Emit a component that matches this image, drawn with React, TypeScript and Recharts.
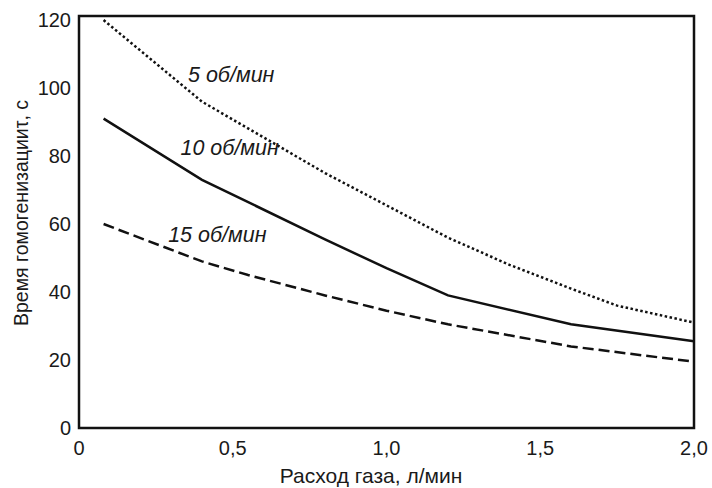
import {
  LineChart,
  Line,
  XAxis,
  YAxis,
  ReferenceArea,
  ReferenceDot,
  Label,
} from "recharts";

// gas flow, l/min -> homogenization time, s
const rpm5 = [
  { q: 0.08, t: 120 },
  { q: 0.4, t: 96 },
  { q: 0.8, t: 75 },
  { q: 1.2, t: 56 },
  { q: 1.4, t: 48 },
  { q: 1.6, t: 41 },
  { q: 1.75, t: 36 },
  { q: 2.0, t: 31 },
];

const rpm10 = [
  { q: 0.08, t: 91 },
  { q: 0.4, t: 73 },
  { q: 0.8, t: 55.5 },
  { q: 1.0, t: 47 },
  { q: 1.2, t: 39 },
  { q: 1.6, t: 30.5 },
  { q: 2.0, t: 25.5 },
];

const rpm15 = [
  { q: 0.08, t: 60 },
  { q: 0.4, t: 49 },
  { q: 0.55, t: 45 },
  { q: 0.8, t: 39 },
  { q: 1.0, t: 34.5 },
  { q: 1.2, t: 30.5 },
  { q: 1.6, t: 24 },
  { q: 2.0, t: 19.5 },
];

const curveLabels = [
  { text: "5 об/мин", q: 0.495, t: 103.8 },
  { text: "10 об/мин", q: 0.49, t: 82.4 },
  { text: "15 об/мин", q: 0.45, t: 56.8 },
];

const xTicks = [0, 0.5, 1, 1.5, 2];
const yTicks = [0, 20, 40, 60, 80, 100, 120];

const font = "'Liberation Sans', Arial, sans-serif";
const ink = "#111";

const fmtX = (v: number) => (v === 0 ? "0" : v.toFixed(1).replace(".", ","));

export default function App() {
  return (
    <div style={{ position: "absolute", left: 0, top: 0, background: "#fff" }}>
      <LineChart
        width={712}
        height={488}
        margin={{ top: 16, right: 18, bottom: 0, left: 0 }}
        style={{ fontFamily: font }}
      >
        <XAxis
          type="number"
          dataKey="q"
          domain={[0, 2]}
          ticks={xTicks}
          tickFormatter={fmtX}
          axisLine={false}
          tickLine={false}
          tickMargin={7}
          height={60}
          tick={{ fill: "#1a1a1a", fontSize: 20, fontFamily: font }}
        >
          <Label
            content={({ viewBox }: any) => (
              <text
                x={371}
                y={viewBox.y + viewBox.height - 5}
                textAnchor="middle"
                fontSize={21}
                fontFamily={font}
                fill="#1a1a1a"
              >
                Расход газа, л/мин
              </text>
            )}
          />
        </XAxis>
        <YAxis
          type="number"
          domain={[0, 121.2]}
          ticks={yTicks}
          axisLine={false}
          tickLine={false}
          width={79}
          tick={{ fill: "#1a1a1a", fontSize: 20, fontFamily: font }}
        >
          <Label
            content={() => (
              <text
                x={21}
                y={213}
                transform="rotate(-90 21 213)"
                textAnchor="middle"
                dominantBaseline="central"
                fontSize={19.5}
                fontFamily={font}
                fill="#1a1a1a"
              >
                Время гомогенизацииτ, с
              </text>
            )}
          />
        </YAxis>
        <ReferenceArea
          x1={0}
          x2={2}
          y1={0}
          y2={121.2}
          fill="none"
          fillOpacity={0}
          stroke={ink}
          strokeWidth={2.5}
        />
        <Line
          data={rpm5}
          dataKey="t"
          type="linear"
          stroke={ink}
          strokeWidth={2.5}
          strokeDasharray="2.5 2.5"
          dot={false}
          isAnimationActive={false}
        />
        <Line
          data={rpm10}
          dataKey="t"
          type="linear"
          stroke={ink}
          strokeWidth={2.5}
          dot={false}
          isAnimationActive={false}
        />
        <Line
          data={rpm15}
          dataKey="t"
          type="linear"
          stroke={ink}
          strokeWidth={2.5}
          strokeDasharray="11 5"
          dot={false}
          isAnimationActive={false}
        />
        {curveLabels.map((c) => (
          <ReferenceDot
            key={c.text}
            x={c.q}
            y={c.t}
            r={0}
            fill="none"
            stroke="none"
            label={
              <Label
                content={({ viewBox }: any) => (
                  <text
                    x={viewBox.x + viewBox.width / 2}
                    y={viewBox.y + viewBox.height / 2}
                    textAnchor="middle"
                    dominantBaseline="central"
                    fontSize={21.5}
                    fontStyle="italic"
                    fontFamily={font}
                    fill="#1a1a1a"
                  >
                    {c.text}
                  </text>
                )}
              />
            }
          />
        ))}
      </LineChart>
    </div>
  );
}
